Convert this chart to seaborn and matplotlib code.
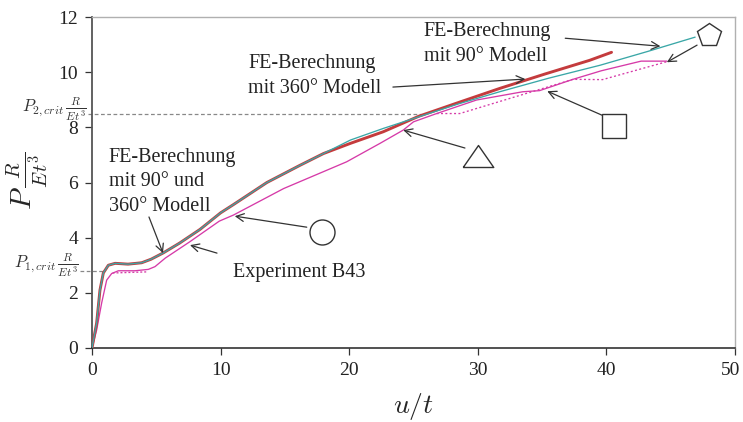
import matplotlib
matplotlib.use("Agg")
import matplotlib.pyplot as plt
import matplotlib.transforms as mtransforms
import seaborn as sns
import pandas as pd

# ---- data ----
fe90_x = [0, 0.36, 0.62, 0.88, 1.27, 1.8, 2.8, 3.86, 4.6, 5.55, 6.8, 8.4, 10.0, 11.0, 13.6, 16.2, 18.0,
          20.1, 22.65, 25.4, 28.5, 31.7, 35.5, 39.5, 43.2, 46.9]
fe90_y = [0, 0.9, 2.1, 2.72, 3.0, 3.07, 3.04, 3.09, 3.22, 3.45, 3.8, 4.3, 4.9, 5.2, 6.0, 6.63, 7.05,
          7.54, 7.96, 8.38, 8.85, 9.29, 9.78, 10.25, 10.75, 11.27]

fe360_x = [0, 0.36, 0.62, 0.88, 1.27, 1.8, 2.8, 3.86, 4.6, 5.55, 6.8, 8.4, 10.0, 11.0, 13.6, 16.2, 18.0,
           20.1, 22.65, 25.4, 28.5, 31.7, 35.2, 38.7, 40.4]
fe360_y = [0, 0.9, 2.1, 2.72, 3.0, 3.07, 3.04, 3.09, 3.22, 3.45, 3.8, 4.3, 4.9, 5.2, 6.0, 6.63, 7.05,
           7.42, 7.84, 8.4, 8.9, 9.41, 9.93, 10.43, 10.72]

exp_x = [0, 0.36, 0.75, 1.14, 1.53, 2.05, 3.34, 4.38, 4.9, 5.7, 7.6, 9.9, 11.0, 14.9, 19.8, 22.4, 24.2,
         25.0, 26.8, 29.9, 33.5, 34.8, 37.4, 39.6, 42.7, 44.7]
exp_y = [0, 0.65, 1.63, 2.46, 2.7, 2.8, 2.8, 2.85, 2.95, 3.26, 3.85, 4.6, 4.82, 5.78, 6.75, 7.42, 7.9,
         8.2, 8.5, 8.99, 9.29, 9.33, 9.74, 10.05, 10.4, 10.4]

exp_dot1_x = [1.6, 4.3]
exp_dot1_y = [2.72, 2.76]
exp_dot2_x = [26.8, 28.6, 37.4, 39.7, 44.7]
exp_dot2_y = [8.5, 8.5, 9.74, 9.73, 10.38]

p1_crit = 2.79
p2_crit = 8.47

x_ticks = [0, 10, 20, 30, 40, 50]
y_ticks = [0, 2, 4, 6, 8, 10, 12]

# ---- style ----
sns.set_style("ticks")
plt.rcParams["font.family"] = ["Liberation Serif", "DejaVu Serif"]
plt.rcParams["mathtext.fontset"] = "cm"

TEAL = "#3aa7a7"
RED = "#c43b3d"
MAG = "#d63aa8"

fig = plt.figure(figsize=(7.43, 4.22), dpi=100)
ax = fig.add_axes([92 / 743, 1 - 348 / 422, 643 / 743, 331 / 422])

def df(x, y):
    return pd.DataFrame({"x": x, "y": y})

sns.lineplot(data=df(fe360_x, fe360_y), x="x", y="y", ax=ax, color=RED, lw=2.1, sort=False, zorder=3)
sns.lineplot(data=df(fe90_x, fe90_y), x="x", y="y", ax=ax, color=TEAL, lw=0.95, sort=False, zorder=4)
sns.lineplot(data=df(exp_x, exp_y), x="x", y="y", ax=ax, color=MAG, lw=0.95, sort=False, zorder=2)
sns.lineplot(data=df(exp_dot1_x, exp_dot1_y), x="x", y="y", ax=ax, color=MAG, lw=0.95, sort=False,
             zorder=2, linestyle=(0, (1.5, 1.5)))
sns.lineplot(data=df(exp_dot2_x, exp_dot2_y), x="x", y="y", ax=ax, color=MAG, lw=0.95, sort=False,
             zorder=2, linestyle=(0, (1.5, 1.8)))

# critical load reference lines
ax.plot([-0.93, 1.0], [p1_crit, p1_crit], ls=(0, (3, 2)), color="#888888", lw=0.9, clip_on=False, zorder=1)
ax.plot([-0.3, 25.6], [p2_crit, p2_crit], ls=(0, (3, 2)), color="#888888", lw=0.9, clip_on=False, zorder=1)
ax.text(-1.05, p1_crit + 0.12, r"$P_{1,crit}\,\frac{R}{Et^3}$", ha="right", va="baseline", fontsize=12,
        color="#333333", clip_on=False)
ax.text(-0.4, p2_crit + 0.12, r"$P_{2,crit}\,\frac{R}{Et^3}$", ha="right", va="baseline", fontsize=12,
        color="#333333", clip_on=False)

ax.set_xlim(0, 50)
ax.set_ylim(0, 12)
ax.set_xticks(x_ticks)
ax.set_yticks(y_ticks)
ax.tick_params(axis="both", direction="out", length=5, width=0.9, colors="#333333", labelsize=14,
               labelcolor="#222222", pad=5)

# keep the last x tick label inside the canvas
last = ax.get_xticklabels()[-1]
last.set_transform(last.get_transform() + mtransforms.ScaledTranslation(-4 / 100, 0, fig.dpi_scale_trans))

for s in ["top", "right"]:
    ax.spines[s].set_color("#b0b0b0")
    ax.spines[s].set_linewidth(1.0)
ax.spines["left"].set_color("#555555")
ax.spines["left"].set_linewidth(1.3)
ax.spines["bottom"].set_color("#222222")
ax.spines["bottom"].set_linewidth(1.1)

ax.set_xlabel(r"$u/t$", fontsize=20, va="baseline")
ax.xaxis.set_label_coords(0.5, -0.196)
ax.set_ylabel(r"$P\,\frac{R}{Et^3}$", fontsize=21, va="center")
ax.yaxis.set_label_coords(-0.101, 0.505)

# text annotations
tkw = dict(fontsize=14.5, color="#222222", ha="left", va="center", linespacing=1.4)
ax.text(12.13, 9.86, "FE-Berechnung\nmit 360° Modell", **tkw)
ax.text(25.8, 11.03, "FE-Berechnung\nmit 90° Modell", **tkw)
ax.text(1.3, 6.03, "FE-Berechnung\nmit 90° und\n360° Modell", **tkw)
ax.text(10.96, 2.75, "Experiment B43", **tkw)

akw = dict(arrowstyle="->", color="#333333", lw=0.9, shrinkA=0, shrinkB=0, mutation_scale=14)
arrows = [
    ((23.4, 9.46), (33.7, 9.75)),
    ((36.8, 11.23), (44.2, 10.94)),
    ((47.05, 10.98), (44.7, 10.36)),
    ((39.66, 8.44), (35.4, 9.31)),
    ((29.0, 7.25), (24.2, 7.9)),
    ((16.7, 4.38), (11.1, 4.78)),
    ((9.72, 3.44), (7.62, 3.73)),
    ((4.43, 4.75), (5.52, 3.44)),
]
for start, end in arrows:
    ax.annotate("", xy=end, xytext=start, arrowprops=akw, zorder=5)

# open shape markers
mkw = dict(mfc="white", mec="#333333", mew=1.0, ls="none", zorder=6, clip_on=False)
tri = [(-1.0, -0.72), (1.0, -0.72), (0.0, 0.72), (-1.0, -0.72)]
ax.plot([17.9], [4.2], marker="o", ms=18, **mkw)
ax.plot([30.0], [6.96], marker=tri, ms=22, **mkw)
ax.plot([40.6], [8.04], marker="s", ms=17, **mkw)
ax.plot([48.0], [11.34], marker="p", ms=18, **mkw)

fig.savefig("out.png", dpi=100)
